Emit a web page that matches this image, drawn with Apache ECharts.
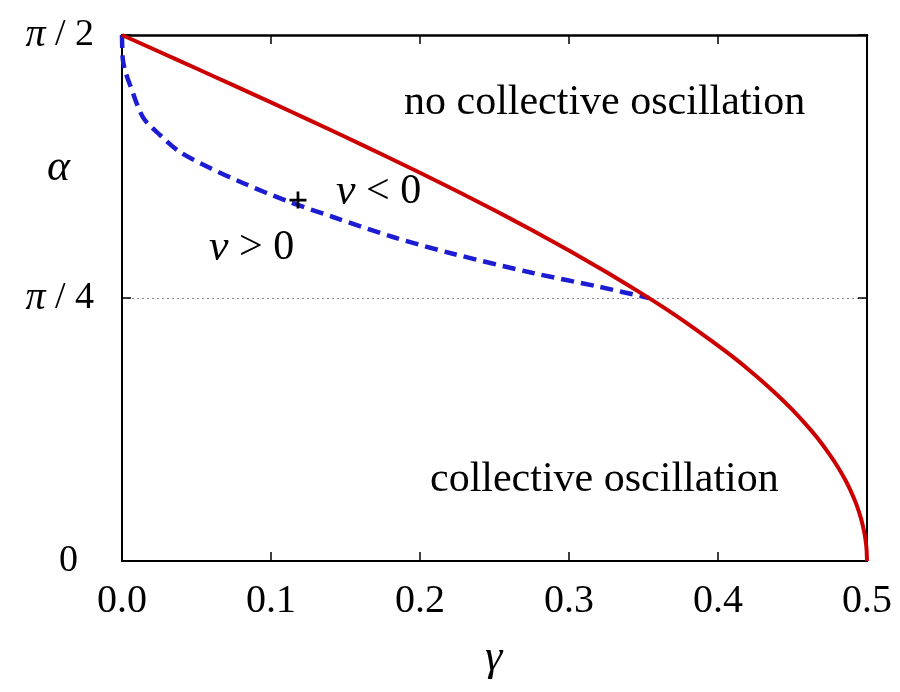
<!DOCTYPE html>
<html>
<head>
    <meta charset="utf-8">
    <style>
        html, body {
            height: 100%;
            margin: 0;
            padding: 0;
            background: #ffffff;
        }

        .container {
            width: 900px;
            height: 692px;
        }
    </style>
</head>
<body>
<div id="main" class="container"></div>

<script src="https://cdn.jsdelivr.net/npm/echarts@6/dist/echarts.min.js"></script>
<script type="text/javascript">
// boundary curves: [gamma, alpha]
var redCurve = [
    [0, 1.5708], [0.025, 1.5208], [0.05, 1.4706], [0.075, 1.4202], [0.1, 1.3694],
    [0.125, 1.3181], [0.15, 1.2661], [0.175, 1.2132], [0.2, 1.1593], [0.225, 1.1040],
    [0.25, 1.0472], [0.275, 0.9884], [0.3, 0.9273], [0.325, 0.8632], [0.35, 0.7954],
    [0.365, 0.7527], [0.38, 0.7075], [0.395, 0.6594], [0.41, 0.6094], [0.42, 0.5735],
    [0.43, 0.5355], [0.44, 0.4949], [0.45, 0.4510], [0.46, 0.4027], [0.467, 0.3657],
    [0.474, 0.3236], [0.48, 0.2838], [0.485, 0.2456], [0.489, 0.2102], [0.493, 0.1676],
    [0.496, 0.1266], [0.498, 0.0895], [0.499, 0.0633], [0.4997, 0.0346], [0.5, 0]
];
var blueCurve = [
    [0, 1.5708], [0.0005, 1.50], [0.002, 1.466], [0.0054, 1.4215], [0.0141, 1.325],
    [0.0255, 1.2722], [0.0389, 1.2214], [0.0591, 1.1736], [0.0812, 1.1288], [0.1107, 1.0751],
    [0.1416, 1.0273], [0.1819, 0.9676], [0.2201, 0.9198], [0.2758, 0.8601], [0.3208, 0.8183],
    [0.3536, 0.7854]
];
var crossPoint = [[0.1181, 1.078]];

var xTicks = [0, 0.1, 0.2, 0.3, 0.4, 0.5];
var yTickLabels = {0: '{z|0}', 1: '{p|π} / 4', 2: '{p|π} / 2'};

var serif = '"Liberation Serif", "DejaVu Serif", serif';
var myChart = echarts.init(document.getElementById('main'));

var frameTick = {inside: true, length: 9, lineStyle: {color: '#000', width: 1.5}};

var option = {
    animation: false,
    backgroundColor: '#ffffff',
    grid: {left: 122, right: 33, top: 35, bottom: 131},
    xAxis: [{
        type: 'value',
        min: 0,
        max: 0.5,
        interval: 0.1,
        axisLine: {onZero: false, lineStyle: {color: '#000', width: 2}},
        axisTick: frameTick,
        axisLabel: {
            color: '#000', fontFamily: serif, fontSize: 40, margin: 20,
            formatter: function (v) {
                return xTicks.indexOf(Math.round(v * 10) / 10) >= 0 ? v.toFixed(1) : '';
            }
        },
        splitLine: {show: false}
    }, {
        type: 'value',
        position: 'top',
        min: 0,
        max: 0.5,
        interval: 0.1,
        axisLine: {show: true, onZero: false, lineStyle: {color: '#000', width: 2.5}},
        axisTick: frameTick,
        axisLabel: {show: false},
        splitLine: {show: false}
    }],
    yAxis: [{
        type: 'value',
        min: 0,
        max: Math.PI / 2,
        interval: Math.PI / 4,
        axisLine: {show: true, onZero: false, lineStyle: {color: '#000', width: 2}},
        axisTick: frameTick,
        axisLabel: {
            color: '#000', fontFamily: serif, fontSize: 38, margin: 28,
            formatter: function (v) {
                return yTickLabels[Math.round(v / (Math.PI / 4))];
            },
            rich: {
                z: {fontFamily: serif, fontSize: 38, padding: [0, 16, 0, 0]},
                p: {fontFamily: serif, fontSize: 40, fontStyle: 'italic'}
            }
        },
        splitLine: {show: true, lineStyle: {color: '#888', width: 1, type: [2, 3]}}
    }, {
        type: 'value',
        position: 'right',
        min: 0,
        max: Math.PI / 2,
        interval: Math.PI / 4,
        axisLine: {show: true, onZero: false, lineStyle: {color: '#000', width: 2}},
        axisTick: frameTick,
        axisLabel: {show: false},
        splitLine: {show: false}
    }],
    graphic: [
        {type: 'text', left: 404, top: 82, style: {text: 'no collective oscillation', font: '42px ' + serif, fill: '#000'}},
        {type: 'text', left: 430, top: 459, style: {text: 'collective oscillation', font: '42px ' + serif, fill: '#000'}},
        {type: 'text', left: 336, top: 170, style: {
            text: '{n|ν} < 0', font: '42px ' + serif, fill: '#000',
            rich: {n: {font: 'italic 44px ' + serif, fill: '#000'}}
        }},
        {type: 'text', left: 209, top: 226, style: {
            text: '{n|ν} > 0', font: '42px ' + serif, fill: '#000',
            rich: {n: {font: 'italic 44px ' + serif, fill: '#000'}}
        }},
        {type: 'text', left: 47, top: 146, style: {text: 'α', font: 'italic 44px ' + serif, fill: '#000'}},
        {type: 'text', left: 485, top: 636, style: {text: 'γ', font: 'italic 44px ' + serif, fill: '#000'}}
    ],
    series: [{
        name: 'blue',
        type: 'line',
        data: blueCurve,
        showSymbol: false,
        smooth: 0.3,
        lineStyle: {color: '#1c1cd2', width: 4.5, type: [13, 7]},
        z: 3
    }, {
        name: 'red',
        type: 'line',
        data: redCurve,
        showSymbol: false,
        smooth: 0.2,
        lineStyle: {color: '#cc0000', width: 4},
        z: 4
    }, {
        name: 'cross',
        type: 'scatter',
        data: crossPoint,
        symbol: 'path://M6.3,0H8.7V6.3H15V8.7H8.7V15H6.3V8.7H0V6.3H6.3Z',
        symbolSize: 17,
        itemStyle: {color: '#000', opacity: 1},
        z: 10
    }]
};

myChart.setOption(option);
</script>
</body>
</html>
